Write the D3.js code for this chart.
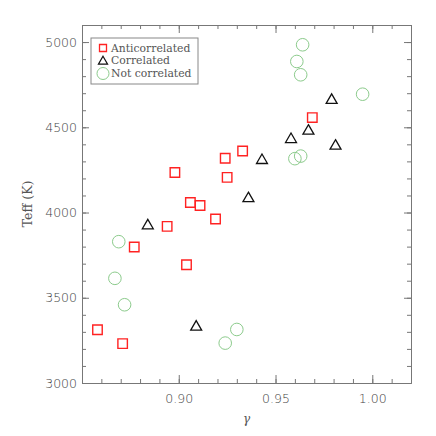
<!DOCTYPE html>
<html>
<head>
<meta charset="utf-8">
<script src="https://cdn.jsdelivr.net/npm/d3@7"></script>
<style>
  body { margin: 0; background: #fff; }
  svg { display: block; }
</style>
</head>
<body>
<script>
// data
var anticorrGamma = [0.858, 0.871, 0.877, 0.894, 0.898, 0.904, 0.906, 0.911, 0.919, 0.924, 0.925, 0.933, 0.969];
var anticorrTeff  = [3312, 3231, 3798, 3919, 4235, 3694, 4059, 4041, 3962, 4318, 4206, 4361, 4557];

var corrGamma = [0.884, 0.909, 0.936, 0.943, 0.958, 0.967, 0.981, 0.979];
var corrTeff  = [3929, 3335, 4088, 4312, 4435, 4484, 4396, 4665];

var notcorrGamma = [0.869, 0.867, 0.872, 0.924, 0.930, 0.960, 0.963, 0.961, 0.964, 0.963, 0.995];
var notcorrTeff  = [3829, 3614, 3459, 3234, 3314, 4316, 4331, 4886, 4984, 4808, 4694];

var xTicks = [0.90, 0.95, 1.00];
var yTicks = [3000, 3500, 4000, 4500, 5000];
var legendLabels = ["Anticorrelated", "Correlated", "Not correlated"];

var w = 436, h = 436;
var margin = { top: 25, right: 25, bottom: 53, left: 82 };
var width = w - margin.left - margin.right;
var height = h - margin.top - margin.bottom;

var axisColor = "#777";
var textColor = "#555";

var x = d3.scaleLinear().domain([0.85, 1.02]).range([0, width]);
var y = d3.scaleLinear().domain([3000, 5100]).range([height, 0]);

var svg = d3.select("body").append("svg")
    .attr("width", w)
    .attr("height", h);

var chart = svg.append("g")
    .attr("transform", "translate(" + margin.left + "," + margin.top + ")");

//axes: major + minor on all four sides, ticks pointing in
function styleAxis(g) {
    g.select(".domain").attr("stroke", axisColor);
    g.selectAll(".tick line").attr("stroke", axisColor);
    g.selectAll(".tick text")
        .attr("fill", "#444")
        .style("font-family", "DejaVu Sans")
        .style("font-weight", "200")
        .style("font-size", "12.5px");
}

var minorX = x.ticks(17);
var minorY = y.ticks(21);

chart.append("g").attr("transform", "translate(0," + height + ")")
    .call(d3.axisBottom(x).tickValues(minorX).tickSize(-4).tickFormat("").tickSizeOuter(0))
    .call(styleAxis);
chart.append("g").attr("transform", "translate(0," + height + ")")
    .call(d3.axisBottom(x).tickValues(xTicks).tickSize(-8).tickPadding(11).tickFormat(d3.format(".2f")).tickSizeOuter(0))
    .call(styleAxis);
chart.append("g")
    .call(d3.axisTop(x).tickValues(minorX).tickSize(-4).tickFormat("").tickSizeOuter(0))
    .call(styleAxis);
chart.append("g")
    .call(d3.axisTop(x).tickValues(xTicks).tickSize(-8).tickFormat("").tickSizeOuter(0))
    .call(styleAxis);

chart.append("g")
    .call(d3.axisLeft(y).tickValues(minorY).tickSize(-4).tickFormat("").tickSizeOuter(0))
    .call(styleAxis);
chart.append("g")
    .call(d3.axisLeft(y).tickValues(yTicks).tickSize(-7).tickPadding(5).tickFormat(d3.format("d")).tickSizeOuter(0))
    .call(styleAxis);
chart.append("g").attr("transform", "translate(" + width + ",0)")
    .call(d3.axisRight(y).tickValues(minorY).tickSize(-4).tickFormat("").tickSizeOuter(0))
    .call(styleAxis);
chart.append("g").attr("transform", "translate(" + width + ",0)")
    .call(d3.axisRight(y).tickValues(yTicks).tickSize(-7).tickFormat("").tickSizeOuter(0))
    .call(styleAxis);

//axis titles
chart.append("text")
    .attr("x", width / 2)
    .attr("y", height + 40)
    .attr("text-anchor", "middle")
    .attr("fill", textColor)
    .style("font-family", "DejaVu Serif")
    .style("font-style", "italic")
    .style("font-size", "12px")
    .text("γ");

chart.append("text")
    .attr("transform", "translate(" + (-50) + "," + (height / 2) + ") rotate(-90)")
    .attr("text-anchor", "middle")
    .attr("fill", textColor)
    .style("font-family", "DejaVu Serif")
    .style("font-size", "12.5px")
    .text("Teff (K)");

//markers
var sq = d3.symbol().type(d3.symbolSquare);
var tri = d3.symbol().type(d3.symbolTriangle);

chart.selectAll(".notcorr")
    .data(notcorrGamma)
    .enter().append("circle")
    .attr("cx", function(d) { return x(d); })
    .attr("cy", function(d, i) { return y(notcorrTeff[i]); })
    .attr("r", 6.3)
    .attr("fill", "none")
    .attr("stroke", "#8ccb8c")
    .attr("stroke-width", 1);

chart.selectAll(".corr")
    .data(corrGamma)
    .enter().append("path")
    .attr("d", tri.size(52))
    .attr("transform", function(d, i) { return "translate(" + x(d) + "," + (y(corrTeff[i]) + 1) + ")"; })
    .attr("fill", "none")
    .attr("stroke", "#111")
    .attr("stroke-width", 1.3);

chart.selectAll(".anticorr")
    .data(anticorrGamma)
    .enter().append("path")
    .attr("d", sq.size(90))
    .attr("transform", function(d, i) { return "translate(" + x(d) + "," + y(anticorrTeff[i]) + ")"; })
    .attr("fill", "none")
    .attr("stroke", "#f22")
    .attr("stroke-width", 1.4);

//legend
var legend = svg.append("g").attr("transform", "translate(91,38)");
legend.append("rect")
    .attr("width", 107)
    .attr("height", 46)
    .attr("fill", "#fff")
    .attr("stroke", "#888")
    .attr("stroke-width", 1);

legend.selectAll("text")
    .data(legendLabels)
    .enter().append("text")
    .attr("x", 20)
    .attr("y", function(d, i) { return 10 + i * 12.7; })
    .attr("dy", "0.35em")
    .attr("fill", textColor)
    .style("font-family", "DejaVu Serif")
    .style("font-size", "10.8px")
    .text(function(d) { return d; });

legend.append("path")
    .attr("d", sq.size(49))
    .attr("transform", "translate(12,10)")
    .attr("fill", "none").attr("stroke", "#f22").attr("stroke-width", 1.3);
legend.append("path")
    .attr("d", tri.size(36))
    .attr("transform", "translate(12,23.5)")
    .attr("fill", "none").attr("stroke", "#111").attr("stroke-width", 1.2);
legend.append("circle")
    .attr("cx", 12).attr("cy", 35.5).attr("r", 6)
    .attr("fill", "none").attr("stroke", "#8ccb8c").attr("stroke-width", 1);
</script>
</body>
</html>
